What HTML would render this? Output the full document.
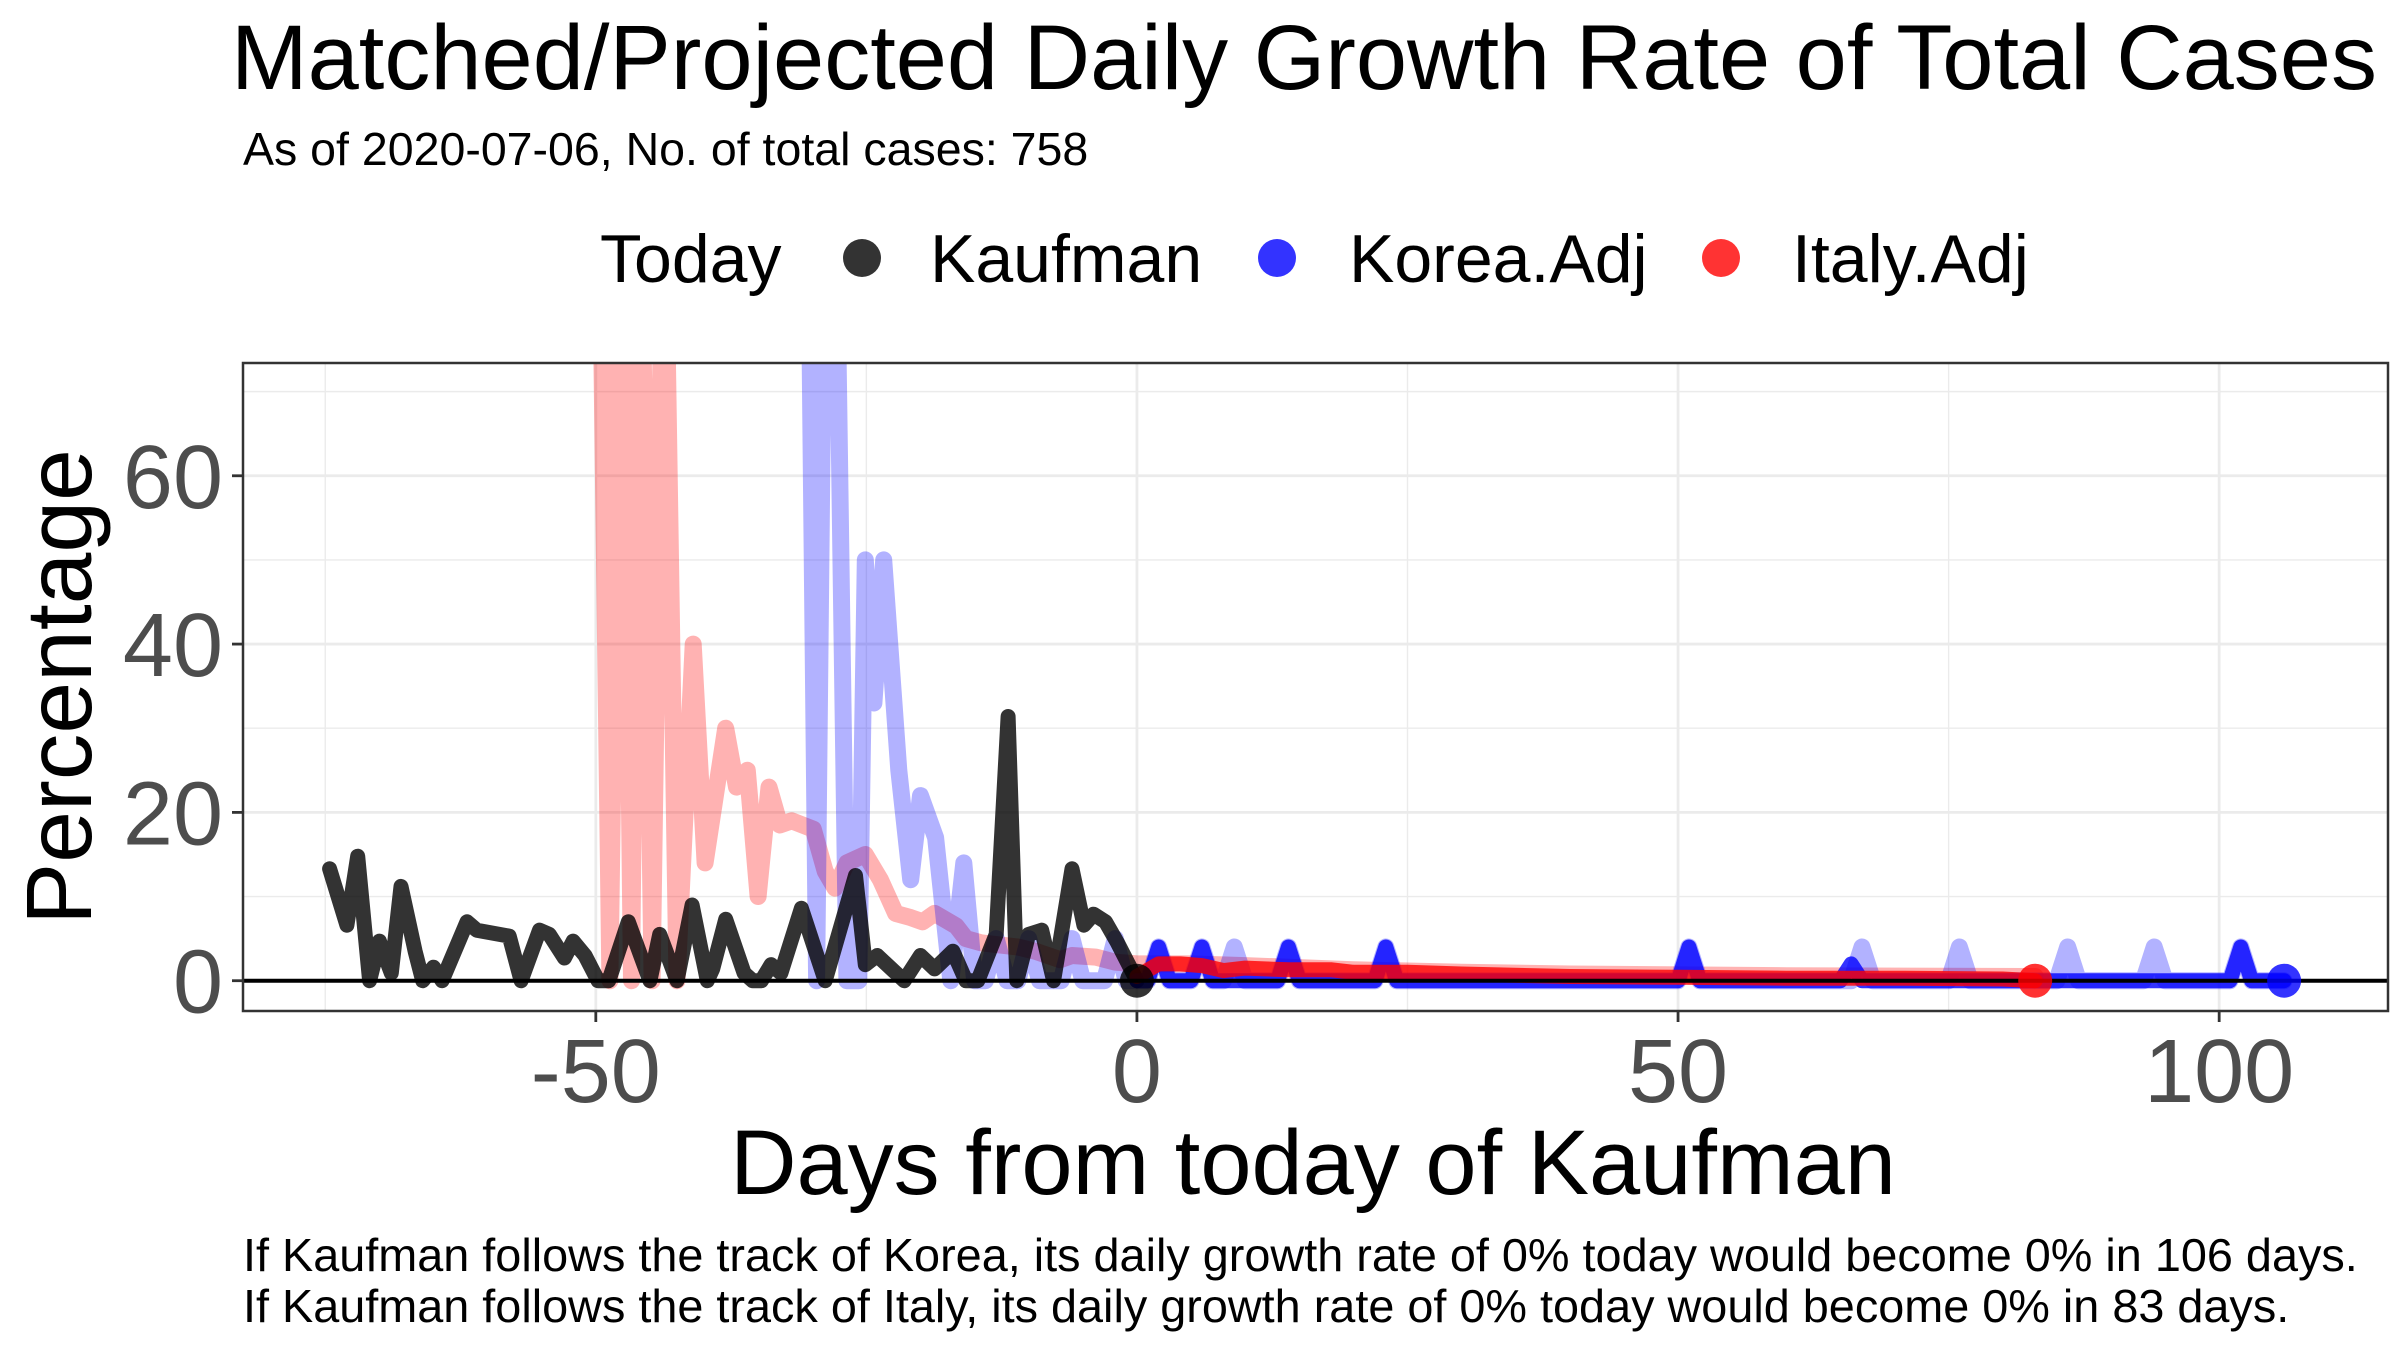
<!DOCTYPE html>
<html><head><meta charset="utf-8"><style>
html,body{margin:0;padding:0;background:#fff;}
svg{display:block;font-family:"Liberation Sans",Arial,sans-serif;}
</style></head><body>
<svg id="chart" width="2400" height="1350" viewBox="0 0 2400 1350">
<text x="231" y="89" font-size="92" fill="#000">Matched/Projected Daily Growth Rate of Total Cases</text>
<text x="243" y="165" font-size="46.5" fill="#000">As of 2020-07-06, No. of total cases: 758</text>
<g>
<text x="600" y="282" font-size="68">Today</text>
<circle cx="862" cy="258" r="19" fill="#000" fill-opacity="0.8"/>
<text x="930" y="282" font-size="68">Kaufman</text>
<circle cx="1277" cy="258" r="19" fill="#0000ff" fill-opacity="0.8"/>
<text x="1349" y="282" font-size="68">Korea.Adj</text>
<circle cx="1721" cy="258" r="19" fill="#ff0000" fill-opacity="0.8"/>
<text x="1792" y="282" font-size="68">Italy.Adj</text>
</g>
<defs><clipPath id="pc"><rect x="243" y="363" width="2145" height="648"/></clipPath></defs>
<g id="grid"></g>
<g id="marks" clip-path="url(#pc)"></g>
<rect x="243" y="363" width="2145" height="648" fill="none" stroke="#333" stroke-width="2.5"/>
<g id="axes"></g>
<text transform="translate(91,687) rotate(-90)" text-anchor="middle" font-size="93">Percentage</text>
<text x="1313" y="1194" text-anchor="middle" font-size="92">Days from today of Kaufman</text>
<text x="243" y="1271" font-size="46.8">If Kaufman follows the track of Korea, its daily growth rate of 0% today would become 0% in 106 days.</text>
<text x="243" y="1322" font-size="46.8">If Kaufman follows the track of Italy, its daily growth rate of 0% today would become 0% in 83 days.</text>
</svg>
<script>
const xTicks = [-50, 0, 50, 100];
const xMinor = [-75, -25, 25, 75];
const yTicks = [0, 20, 40, 60];
const yMinor = [10, 30, 50, 70];
const kaufDays = [-74.6,-73,-72,-70.9,-70,-68.9,-68,-66.7,-66,-65,-64.2,-61.9,-61,-58,-56.9,-55.2,-54.3,-52.9,-52.1,-51,-49.8,-48.8,-47,-45,-44.1,-42.5,-41.1,-39.7,-39.2,-38,-36.3,-35.5,-34.7,-33.8,-32.9,-31,-28.8,-26,-25.1,-24,-21.5,-20,-18.7,-17,-15.8,-14.7,-13,-11.9,-11.1,-10,-8.8,-7.7,-6,-4.9,-4,-2.9,-1.8,0];
const kaufVals = [13.3,6.6,14.8,0,4.7,0.9,11.2,3.5,0,1.6,0,7,6,5.3,0,6,5.5,2.7,4.7,3,0,0,7,0,5.5,0,9,0,1.4,7.3,0.9,0,0,1.9,0.9,8.6,0,12.5,1.9,3,0,3,1.4,3.5,0,0,5.5,31.4,0,5.5,6,0,13.3,6.6,7.9,7,4.5,0];
const italyDays = [-49.7,-48.7,-47.6,-46.7,-45.9,-44.8,-43.7,-42.5,-41,-39.9,-38,-37,-36,-35,-34,-33,-31.9,-29.9,-28.8,-27.9,-26.8,-25.1,-23.7,-22.3,-20.9,-19.8,-18.7,-16.7,-15.8,-14.4,-11,-9.4,-7.1,-6,-3.8,-2,0,5,10,20,30,40,60,83];
const italyVals = [100,0,100,0,100,0,100,0,40,14,30,23,25,10,23,18.5,19,18,13,11,14,15,12,8,7.5,7,8,6.5,5,4.5,4,3.5,2.5,3,2.8,2.2,2,2,1.8,1.3,1,0.8,0.6,0.5];
const koreaDays = [-30.4,-29.6,-28.8,-27.9,-26.8,-25.7,-25.1,-24.3,-23.4,-22,-20.9,-20,-18.6,-17.2,-16,-15,-14,-13,-12,-11,-10,-9,-7,-6,-5,-3,-2,-1,1,2,3,5,6,7,8,9,10,13,14,15,22,23,24,50,51,52,66,67,68,75,76,77,85,86,87,93,94,95,101,102,103,106];
const koreaVals = [100,0,100,100,0,0,50,33,50,25,12,22,17,0,14,0,0,5,0,0,5,0,0,5,0,0,5,0,0,4,0,0,4,0,0,4,0,0,4,0,0,4,0,0,4,0,0,4,0,0,4,0,0,4,0,0,4,0,0,4,0,0];
const koreaProjDays = [0,1,2,3,5,6,7,13,14,15,22,23,24,50,51,52,65,66,67,101,102,103,106];
const koreaProjVals = [0,0,4,0,0,4,0,0,4,0,0,4,0,0,4,0,0,2,0,0,4,0,0];
const italyProjDays = [0,2,4,6,8,10,14,18,20,25,30,40,50,60,70,80,83];
const italyProjVals = [0.5,2,2,1.8,1.2,1.5,1.3,1.3,1,1,0.8,0.5,0.4,0.3,0.3,0.2,0];
const todayKaufman = [0, 0];
const todayKorea = [106, 0];
const todayItaly = [83, 0];

const X0=243,X1=2388,Y0=363,Y1=1011,xmin=-82.6,xmax=115.6,ymin=-3.6,ymax=73.4;
const sx=d=>X0+(d-xmin)/(xmax-xmin)*(X1-X0);
const sy=v=>Y1-(v-ymin)/(ymax-ymin)*(Y1-Y0);
const NS="http://www.w3.org/2000/svg";
function mk(tag,attrs,parent){const e=document.createElementNS(NS,tag);for(const k in attrs)e.setAttribute(k,attrs[k]);parent.appendChild(e);return e;}
const grid=document.getElementById('grid'),marks=document.getElementById('marks'),axes=document.getElementById('axes');
yMinor.forEach(v=>{const l=mk('line',{x1:X0,x2:X1,y1:sy(v),y2:sy(v),stroke:'#ebebeb','stroke-width':1.4},grid);

});
xMinor.forEach(v=>{const l=mk('line',{x1:sx(v),x2:sx(v),y1:Y0,y2:Y1,stroke:'#ebebeb','stroke-width':1.4},grid);

});
yTicks.forEach(v=>{const l=mk('line',{x1:X0,x2:X1,y1:sy(v),y2:sy(v),stroke:'#ebebeb','stroke-width':2.8},grid);


const t=mk('line',{x1:X0-11,x2:X0,y1:sy(v),y2:sy(v),stroke:'#333','stroke-width':2.8},axes);


const tx=mk('text',{x:X0-20,y:sy(v)+32,'text-anchor':'end','font-size':90,fill:'#4d4d4d'},axes);tx.textContent=v;

});
xTicks.forEach(v=>{const l=mk('line',{x1:sx(v),x2:sx(v),y1:Y0,y2:Y1,stroke:'#ebebeb','stroke-width':2.8},grid);


const t=mk('line',{x1:sx(v),x2:sx(v),y1:Y1,y2:Y1+11,stroke:'#333','stroke-width':2.8},axes);


const tx=mk('text',{x:sx(v),y:1102,'text-anchor':'middle','font-size':90,fill:'#4d4d4d'},axes);tx.textContent=v;

});
function line(ds,vs,color,op,w,name){const p=ds.map((d,i)=>sx(d).toFixed(1)+','+sy(vs[i]).toFixed(1)).join(' ');
const e=mk('polyline',{points:p,fill:'none',stroke:color,'stroke-opacity':op,'stroke-width':w,'stroke-linejoin':'round','stroke-linecap':'round'},marks);

}
line(italyDays,italyVals,'#ff0000',0.3,17,'italy-matched-line');
line(koreaDays,koreaVals,'#0000ff',0.3,17,'korea-matched-line');
line(kaufDays,kaufVals,'#000000',0.8,15,'kaufman-line');
line(koreaProjDays,koreaProjVals,'#0000ff',0.8,15,'korea-projected-line');
line(italyProjDays,italyProjVals,'#ff0000',0.8,15,'italy-projected-line');
const z=mk('line',{x1:X0,x2:X1,y1:sy(0),y2:sy(0),stroke:'#000','stroke-width':4},marks);


function dot(pt,color,name){const c=mk('circle',{cx:sx(pt[0]),cy:sy(pt[1]),r:17,fill:color,'fill-opacity':0.8},marks);

}
dot(todayKaufman,'#000','today-point-kaufman');
dot(todayKorea,'#0000ff','today-point-korea');
dot(todayItaly,'#ff0000','today-point-italy');
</script>
</body></html>
